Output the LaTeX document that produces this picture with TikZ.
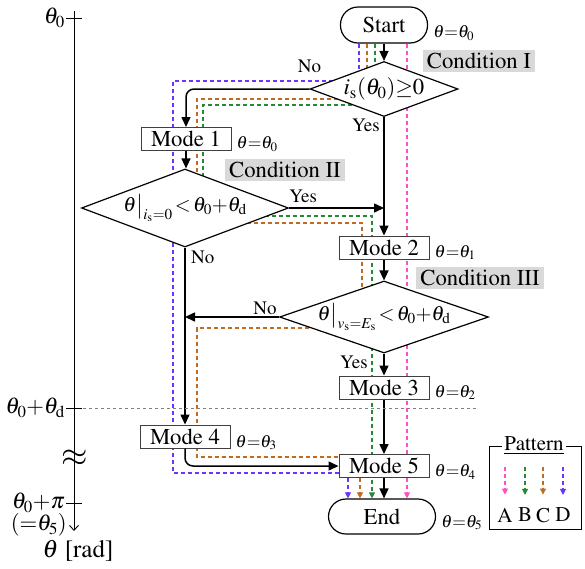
\documentclass[tikz,border=0pt]{standalone}
\usepackage[T1]{fontenc}
\usepackage{mathptmx}
\usepackage{amsmath}
\usepackage{tikz}
\usetikzlibrary{arrows.meta, positioning, shapes.geometric, calc, backgrounds}
\definecolor{ptnA}{HTML}{FF4FC4}
\definecolor{ptnB}{HTML}{228B34}
\definecolor{ptnC}{HTML}{C06A22}
\definecolor{ptnD}{HTML}{6A35FF}
\definecolor{condGray}{HTML}{D9D9D9}

\begin{document}
\begin{tikzpicture}[x=1pt, y=-1pt,
  every node/.style={font=\fontsize{22.7}{26}\selectfont, inner sep=0pt},
  terminal/.style={draw, line width=1.2pt, fill=white, rounded corners=17.5pt, minimum height=35pt},
  modebox/.style={draw=black!75, line width=1pt, fill=white, minimum width=90pt, minimum height=23pt},
  decision/.style={diamond, draw, line width=1.2pt, fill=white},
  condtag/.style={fill=condGray, inner xsep=4pt, minimum height=22pt},
  thlabel/.style={anchor=west, font=\fontsize{17.5}{21}\selectfont},
  answer/.style={font=\fontsize{19}{22}\selectfont},
  flow/.style={line width=1.5pt, -{Triangle[length=10pt,width=9pt]}},
  ptn/.style={line width=1.15pt, dash pattern=on 4pt off 3pt},
  ptntip/.style={-{Triangle[length=6pt,width=6pt]}}]
  \useasboundingbox (0,0) rectangle (585,568);

  \node[terminal, minimum width=87pt, minimum height=36pt] (start) at (384,25) {Start};
  \node[decision, minimum width=148pt, minimum height=55pt, aspect=2.7] (condI) at (384,89) {$i_\mathrm{s}(\theta_0){\geq}0$};
  \node[modebox] (mode1) at (186,139) {Mode 1};
  \node[decision, minimum width=207pt, minimum height=78pt, aspect=2.65, inner sep=-1pt,
        font=\fontsize{20.5}{24}\selectfont] (condII) at (185,208) {$\theta\big|_{i_\mathrm{s}=0}\,{<}\,\theta_0{+}\theta_\mathrm{d}$};
  \node[modebox] (mode2) at (384,247.5) {Mode 2};
  \node[decision, minimum width=209pt, minimum height=72pt, aspect=2.9, inner sep=-2pt,
        font=\fontsize{20.5}{24}\selectfont] (condIII) at (384,317) {$\theta\big|_{v_\mathrm{s}=E_\mathrm{s}}\,{<}\,\theta_0{+}\theta_\mathrm{d}$};
  \node[modebox] (mode3) at (384,387.5) {Mode 3};
  \node[modebox] (mode4) at (185,436.5) {Mode 4};
  \node[modebox] (mode5) at (384,466) {Mode 5};
  \node[terminal, minimum width=107pt] (end) at (382,516.5) {End};

  \node[condtag] (tagI) at (479,61) {Condition I};
  \node[condtag] (tagII) at (285,169.5) {Condition II};
  \node[condtag] (tagIII) at (480,277.5) {Condition III};

  \node[thlabel] (thS) at ([xshift=5pt,yshift=-8pt]start.east) {$\theta{=}\theta_0$};
  \node[thlabel] (th1) at ([xshift=5pt,yshift=-5pt]mode1.east) {$\theta{=}\theta_0$};
  \node[thlabel] (th2) at ([xshift=5pt,yshift=-5pt]mode2.east) {$\theta{=}\theta_1$};
  \node[thlabel] (th3) at ([xshift=5pt,yshift=-5pt]mode3.east) {$\theta{=}\theta_2$};
  \node[thlabel] (th4) at ([xshift=5pt,yshift=-6pt]mode4.east) {$\theta{=}\theta_3$};
  \node[thlabel] (th5) at ([xshift=5pt,yshift=-6pt]mode5.east) {$\theta{=}\theta_4$};
  \node[thlabel] (thE) at ([xshift=5pt,yshift=-6pt]end.east) {$\theta{=}\theta_5$};

  \node[answer, anchor=south] (noI) at ([yshift=16pt]condI.west) {No};
  \node[answer, anchor=north east] (yesI) at ([xshift=-4pt,yshift=-2pt]condI.south) {Yes};
  \node[answer, anchor=south west] (yesII) at ([yshift=5pt]condII.east) {Yes};
  \node[answer, anchor=north west] (noII) at ([xshift=6pt,yshift=-3pt]condII.south) {No};
  \node[answer, anchor=south east] (noIII) at ([xshift=-2pt,yshift=2pt]condIII.west) {No};
  \node[answer, anchor=north east] (yesIII) at ([xshift=-16pt,yshift=-2pt]condIII.south) {Yes};

  \draw[flow] (start) -- (condI);
  \draw[flow, rounded corners=8pt] (condI.west) -| (mode1.north);
  \draw[flow] (condI) -- (mode2);
  \draw[flow] (mode1.south) -- (mode1.south |- condII.north);
  \draw[flow] (condII.east) -- (condII.east -| mode2.north);
  \draw[flow] (condII) -- (mode4);
  \draw[flow] (mode2) -- (condIII);
  \draw[flow] (condIII.west) -- (condIII.west -| mode4.north);
  \draw[flow] (condIII) -- (mode3);
  \draw[flow] (mode3) -- (mode5);
  \draw[flow, rounded corners=8pt] (mode4.south) |- (mode5.west);
  \draw[flow] (mode5) -- (mode5 |- end.north);

  \begin{scope}[on background layer]
    \draw[ptn, ptnA, ptntip] ([xshift=23pt]start.south) -- ([xshift=25pt]end.north);
    \draw[ptn, ptnB, ptntip] ([xshift=-9pt]start.south) -- (375,105) -- (203,105) -- (203,216) -- (372,216) -- ([xshift=-10pt]end.north);
    \draw[ptn, ptnC] ([xshift=-17pt]start.south) -- (367,99) -- (197,99) -- (197,223) -- (362,223) -- (362,328) -- (197,328) -- (197,457) -- ([yshift=9pt]mode5.west);
    \draw[ptn, ptnC, ptntip] ([xshift=-24pt]mode5.south) -- ([xshift=-22pt]end.north);
    \draw[ptn, ptnD] ([xshift=-25pt]start.south) -- (359,81) -- (173,81) -- (173,473) -- ([yshift=-7pt]mode5.west);
    \draw[ptn, ptnD, ptntip] ([xshift=-36pt]mode5.south) -- ([xshift=-34pt]end.north);
  \end{scope}

  \coordinate (axtop) at (74,11);
  \coordinate (axend) at (74,531);
  \draw[line width=0.9pt, -{Straight Barb[length=5pt,width=9pt]}] (axtop) -- (axend);
  \foreach \y/\nm/\txt in {18/tk0/{$\theta_0$}, 408/tkd/{$\theta_0{+}\theta_\mathrm{d}$}, 503/tkp/{$\theta_0{+}\pi$}} {
    \draw[line width=0.9pt] (66,\y) -- (82,\y);
    \node[anchor=east] (\nm) at (65,\y) {\txt};
  }
  \node[anchor=east] (tk5) at (67,525) {$({=}\theta_5)$};
  \node[font=\fontsize{25}{28}\selectfont] (axname) at (78,551) {$\theta$ [rad]};
  \node (brk) at (75,458) {\fontsize{34}{34}\selectfont$\approx$};
  \draw[gray, dashed, line width=0.7pt] ([xshift=18pt]tkd.east) -- (476,408);

  \node[font=\fontsize{21}{24}\selectfont, inner xsep=2pt] (ptnttl) at (534,446) {\underline{Pattern}};
  \draw[line width=0.8pt] (ptnttl.west) -| (489,529) -| (581,446) -- (ptnttl.east);
  \foreach \l/\x/\c in {A/505/ptnA, B/525/ptnB, C/543/ptnC, D/563/ptnD} {
    \node[font=\fontsize{21}{24}\selectfont] (leg\l) at (\x,515) {\l};
    \draw[ptn, \c, ptntip] ([yshift=41pt]leg\l.north) -- ([yshift=13pt]leg\l.north);
  }
\end{tikzpicture}
\end{document}
